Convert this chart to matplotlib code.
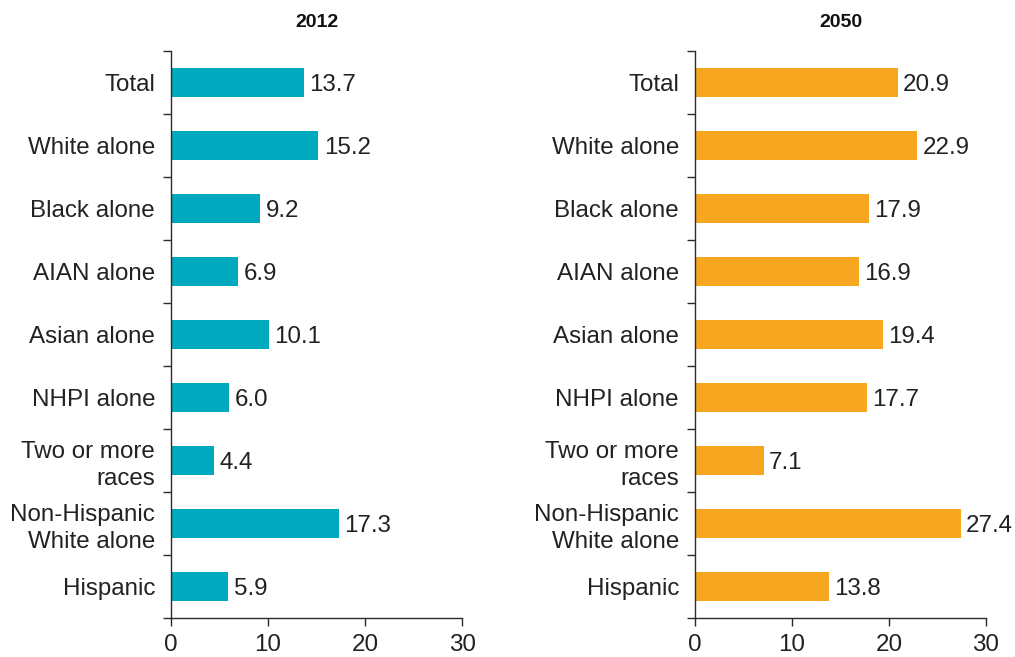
import matplotlib
matplotlib.use("Agg")
import matplotlib.pyplot as plt
import numpy as np

categories = ["Total", "White alone", "Black alone", "AIAN alone", "Asian alone",
              "NHPI alone", "Two or more\nraces", "Non-Hispanic\nWhite alone", "Hispanic"]
values_2012 = [13.7, 15.2, 9.2, 6.9, 10.1, 6.0, 4.4, 17.3, 5.9]
values_2050 = [20.9, 22.9, 17.9, 16.9, 19.4, 17.7, 7.1, 27.4, 13.8]
titles = ["2012", "2050"]
colors = ["#00A9BE", "#F7A71F"]
xticks = [0, 10, 20, 30]

plt.rcParams['font.family'] = ['Liberation Sans', 'DejaVu Sans']
fig = plt.figure(figsize=(10.15, 6.57), dpi=100)
axes_pos = [[0.1685, 0.0586, 0.2867, 0.8645], [0.6847, 0.0586, 0.2867, 0.8645]]
axcol = "#2b2b2b"
fs = 17.4

for pos, vals, title, col in zip(axes_pos, [values_2012, values_2050], titles, colors):
    ax = fig.add_axes(pos)
    y = np.arange(len(categories))
    ax.barh(y, vals, height=0.46, color=col, zorder=2)
    for yi, v in zip(y, vals):
        ax.text(v + 0.55, yi, f"{v:.1f}", va='center_baseline', ha='left', fontsize=fs, color="#222222")
    ax.set_xlim(0, 30)
    ax.set_ylim(len(categories) - 0.5, -0.5)
    ax.set_yticks(y)
    ax.set_yticklabels(categories, fontsize=fs, color="#222222", linespacing=1.3)
    ax.set_yticks(np.arange(-0.5, len(categories), 1.0), minor=True)
    ax.tick_params(axis='y', which='major', length=0, pad=11.5)
    ax.tick_params(axis='y', which='minor', length=6, width=1.0, color=axcol, direction='out')
    ax.set_xticks(xticks)
    ax.set_xticklabels([str(t) for t in xticks], fontsize=fs, color="#222222")
    ax.tick_params(axis='x', which='major', length=6, width=1.0, color=axcol, direction='out', pad=5)
    for s in ['top', 'right']:
        ax.spines[s].set_visible(False)
    for s in ['left', 'bottom']:
        ax.spines[s].set_color(axcol)
        ax.spines[s].set_linewidth(1.0)
    ax.set_title(title, fontsize=14, fontweight='bold', pad=17, color="#111111")

fig.savefig("out.png", dpi=100)
